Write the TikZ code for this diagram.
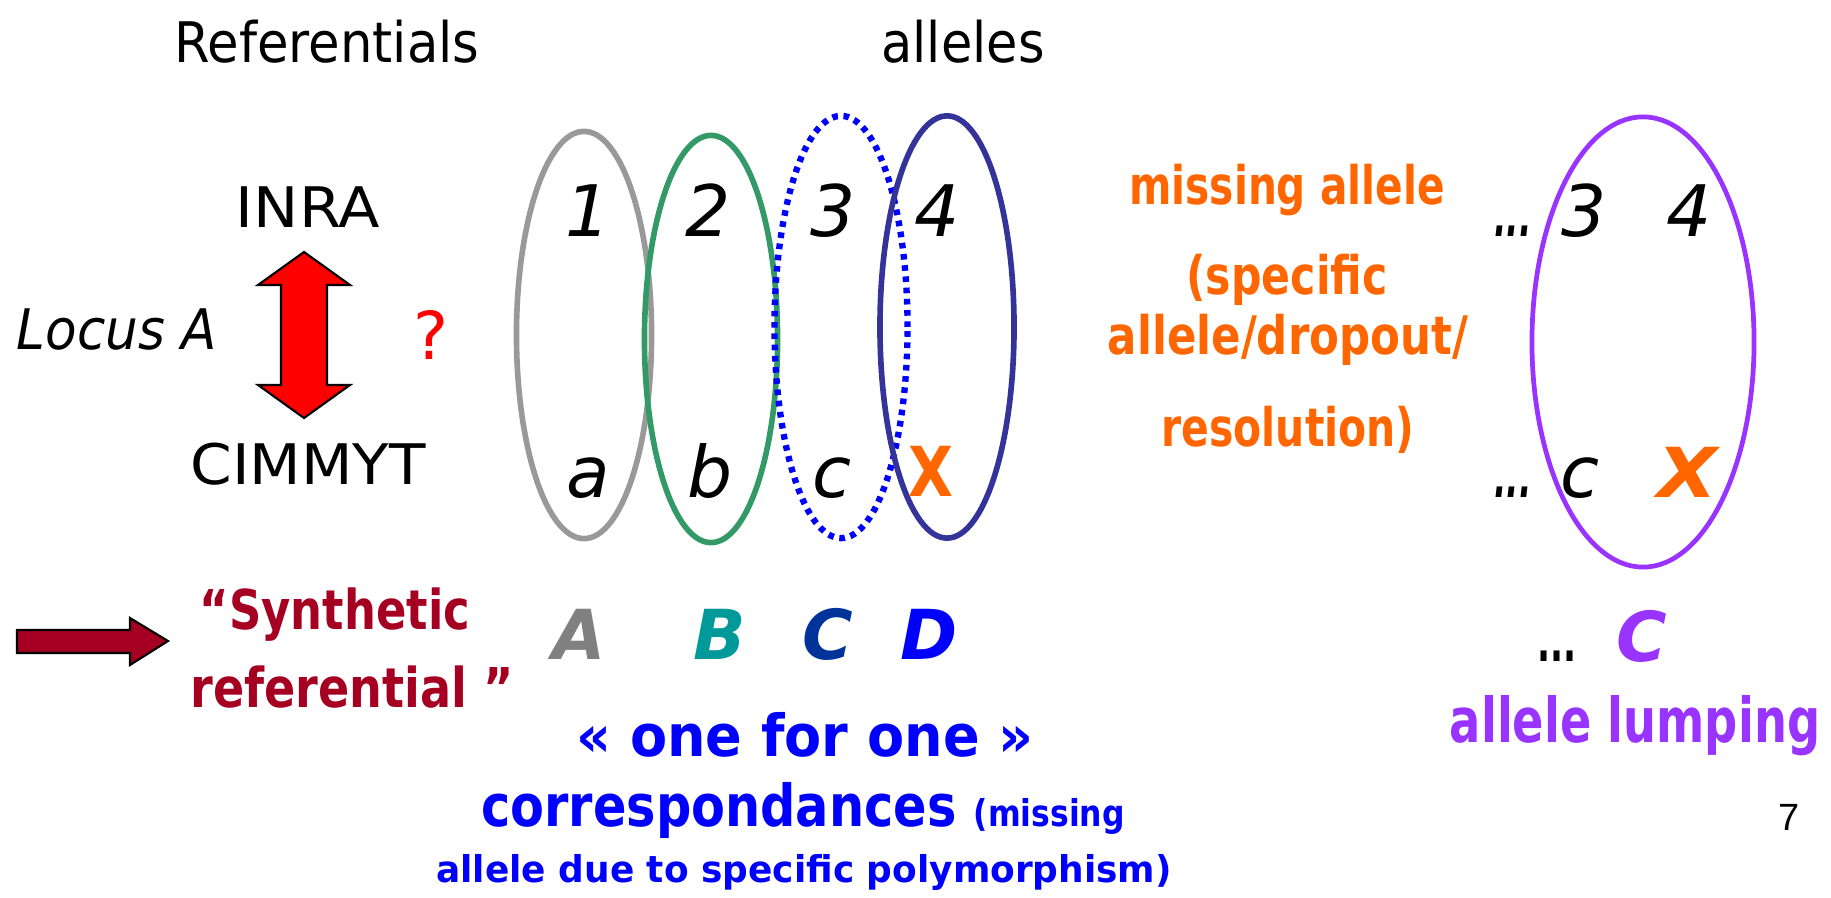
\documentclass[tikz,border=0pt]{standalone}
\usepackage{fontspec}
\usepackage{graphicx}
\setmainfont{DejaVu Sans}
\newfontfamily\numfont{Liberation Sans}
\usetikzlibrary{shapes.geometric}
\definecolor{cgray}{HTML}{999999}
\definecolor{agray}{HTML}{808080}
\definecolor{cgreen}{HTML}{339966}
\definecolor{cnavy}{HTML}{333399}
\definecolor{cblue}{HTML}{0000FF}
\definecolor{corange}{HTML}{FF6600}
\definecolor{cpurple}{HTML}{9933FF}
\definecolor{cdred}{HTML}{A50021}
\definecolor{cteal}{HTML}{009999}
\definecolor{ccblue}{HTML}{003399}
\newcommand\fw[2]{\resizebox{#1}{\height}{#2}}
\begin{document}
\begin{tikzpicture}[x=0.01cm,y=-0.01cm,
  txt/.style={inner sep=0pt, anchor=base},
  reg/.style={txt, font=\fontsize{15.9}{19}\selectfont},
  dig/.style={txt, font=\fontsize{20.2}{24}\selectfont\itshape},
  orng/.style={txt, text=corange, font=\fontsize{15.1}{18}\selectfont\bfseries},
  synth/.style={txt, text=cdred, font=\fontsize{15.6}{19}\selectfont\bfseries},
  big/.style={txt, font=\fontsize{19.6}{23}\selectfont\bfseries\itshape},
  blu/.style={txt, text=cblue, font=\fontsize{16.5}{20}\selectfont\bfseries},
  blus/.style={txt, text=cblue, font=\fontsize{10.5}{12}\selectfont\bfseries},
  oval/.style={ellipse, draw, line width=1.6pt, inner sep=0pt}]
\useasboundingbox (0,0) rectangle (1831,898);

% ellipses
\node[oval, draw=cgray, minimum width=1.35cm, minimum height=4.07cm] (e1) at (584,335) {};
\node[oval, draw=cgreen, minimum width=1.33cm, minimum height=4.07cm] (e2) at (711,339) {};
\node[oval, draw=cblue, line width=1.8pt, dash pattern=on 1.6pt off 1.6pt, minimum width=1.33cm, minimum height=4.22cm] (e3) at (841,327) {};
\node[oval, draw=cnavy, minimum width=1.34cm, minimum height=4.22cm] (e4) at (947,327) {};
\node[oval, draw=cpurple, line width=1.35pt, minimum width=2.22cm, minimum height=4.50cm] (e5) at (1643,342) {};

% headings
\node[reg] (ref) at (327,63) {\fw{3.05cm}{Referentials}};
\node[reg] (alle) at (963,63) {\fw{1.63cm}{alleles}};
\node[reg] (inra) at (308,228) {\fw{1.44cm}{INRA}};
\node[reg] (cim) at (308,485) {\fw{2.35cm}{CIMMYT}};
\node[reg, font=\fontsize{15.9}{19}\selectfont\itshape] (locus) at (117,350) {\fw{2.0cm}{Locus A}};
\node[txt, text=red, font=\fontsize{18.8}{22}\selectfont] (q) at (431,360) {?};

% red double arrow
\draw[fill=red, line width=0.6pt, line join=miter] (304,252) -- (350,285) -- (327,285) -- (327,385) -- (350,385) -- (304,418) -- (258,385) -- (281,385) -- (281,285) -- (258,285) -- cycle;

% digits and letters
\node[dig] (d1) at (588,237) {1};
\node[dig] (d2) at (708,237) {2};
\node[dig] (d3) at (833,237) {3};
\node[dig] (d4) at (937,237) {4};
\node[dig] (la) at (588,498) {a};
\node[dig] (lb) at (710,498) {b};
\node[dig] (lc) at (832,498) {c};
\node[txt, text=corange, font=\fontsize{19.6}{23}\selectfont\bfseries] (xa) at (931,497) {\fw{0.45cm}{X}};

% missing allele text
\node[orng] (m1) at (1287,205) {\fw{3.15cm}{missing allele}};
\node[orng] (m2) at (1287,295) {\fw{2.01cm}{(specific}};
\node[orng] (m3) at (1288,355) {\fw{3.60cm}{allele/dropout/}};
\node[orng] (m4) at (1288,447) {\fw{2.53cm}{resolution)}};

% right group
\node[reg, font=\fontsize{15.9}{19}\selectfont\bfseries\itshape] (dt1) at (1513,237) {\fw{0.37cm}{...}};
\node[dig] (r3) at (1584,237) {3};
\node[dig] (r4) at (1689,237) {4};
\node[reg, font=\fontsize{15.9}{19}\selectfont\bfseries\itshape] (dt2) at (1513,498) {\fw{0.37cm}{...}};
\node[dig] (rc) at (1580,498) {c};
\node[big, text=corange] (xb) at (1687,498) {\fw{0.60cm}{X}};

% synthetic referential
\draw[fill=cdred, line width=0.6pt, line join=miter] (17,630) -- (130,630) -- (130,618) -- (168,641) -- (130,665) -- (130,653) -- (17,653) -- cycle;
\node[synth] (s1) at (335,630) {\fw{2.70cm}{“Synthetic}};
\node[synth] (s2) at (352,708) {\fw{3.23cm}{referential ”}};

% A B C D
\node[big, text=agray] (bA) at (579,660) {A};
\node[big, text=cteal] (bB) at (720,660) {B};
\node[big, text=ccblue] (bC) at (828,660) {C};
\node[big, text=cblue] (bD) at (929,660) {D};

% one for one
\node[blu] (o1) at (805,757) {\fw{4.57cm}{« one for one »}};
\node[blu] (o2) at (803,827) {\fw{6.43cm}{correspondances {\fontsize{10.5}{12}\selectfont (missing}}};
\node[blus] (o3) at (804,882) {\fw{7.35cm}{allele due to specific polymorphism)}};

% allele lumping
\node[txt, font=\fontsize{15.9}{19}\selectfont\bfseries] (dt3) at (1557,662) {\fw{0.39cm}{...}};
\node[big, text=cpurple] (pC) at (1642,662) {C};
\node[txt, text=cpurple, font=\fontsize{17.6}{21}\selectfont\bfseries] (lump) at (1635,742) {\fw{3.70cm}{allele lumping}};

% page number
\node[txt, font=\fontsize{10.8}{13}\selectfont\numfont] (pg) at (1789,830) {7};
\end{tikzpicture}
\end{document}
